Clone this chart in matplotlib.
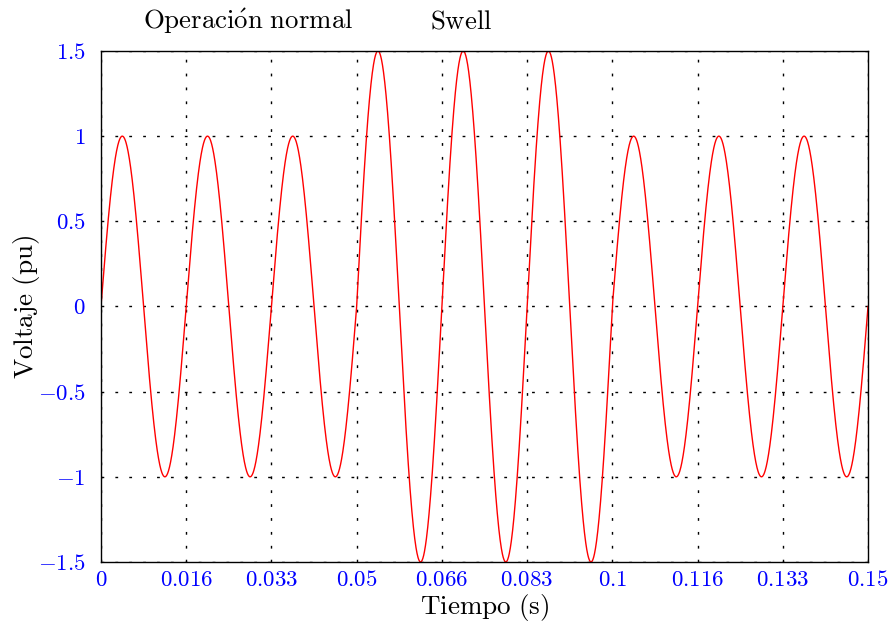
import numpy as np
import matplotlib
matplotlib.use("Agg")
import matplotlib.pyplot as plt

plt.rcParams['mathtext.fontset'] = 'cm'
plt.rcParams['font.family'] = ['cmr10', 'DejaVu Serif']
plt.rcParams['axes.unicode_minus'] = False

# signal parameters
freq = 60.0
seg_start = [0.0, 0.05, 0.1]
seg_end = [0.05, 0.1, 0.15]
seg_amp = [1.0, 1.5, 1.0]
seg_names = ["Operación normal", "Swell"]
name_x = [0.0287, 0.0704]

xticks = [k / 60 for k in range(10)]
xticklabels = ["0", "0.016", "0.033", "0.05", "0.066", "0.083", "0.1", "0.116", "0.133", "0.15"]
yticks = [-1.5, -1, -0.5, 0, 0.5, 1, 1.5]
yticklabels = ["-1.5", "-1", "-0.5", "0", "0.5", "1", "1.5"]

t = np.linspace(0, 0.15, 3001)
amp = np.select([(t >= a) & (t <= b) for a, b in zip(seg_start, seg_end)], seg_amp)
v = amp * np.sin(2 * np.pi * freq * t)

fig = plt.figure(figsize=(8.88, 6.24), dpi=100)
ax = fig.add_axes([0.1137, 0.0994, 0.8638, 0.8189])
ax.plot(t, v, color='red', lw=1.0)
ax.set_xlim(0, 0.15)
ax.set_ylim(-1.5, 1.5)

ax.set_xticks(xticks)
ax.set_xticklabels(["$" + s + "$" for s in xticklabels])
ax.set_yticks(yticks)
ax.set_yticklabels(["$" + s + "$" for s in yticklabels])
ax.tick_params(length=0, labelsize=16.5, colors='blue')
ax.tick_params(axis='y', pad=11)
ax.tick_params(axis='x', pad=6)
ax.grid(True, color='black', linestyle=(0, (2, 8)), lw=1.0)
for s in ax.spines.values():
    s.set_linewidth(1.0)

ax.set_xlabel(r"$\mathrm{Tiempo\ (s)}$", fontsize=19.5, labelpad=1)
ax.set_ylabel(r"$\mathrm{Voltaje\ (pu)}$", fontsize=19.5, labelpad=-3)

for nm, x in zip(seg_names, name_x):
    lab = nm.replace("ó", r"\acute{o}").replace(" ", r"\ ")
    ax.text(x, 1.675, "$\\mathrm{" + lab + "}$", ha='center', va='center', fontsize=19.3)

fig.savefig("out.png", dpi=100)
